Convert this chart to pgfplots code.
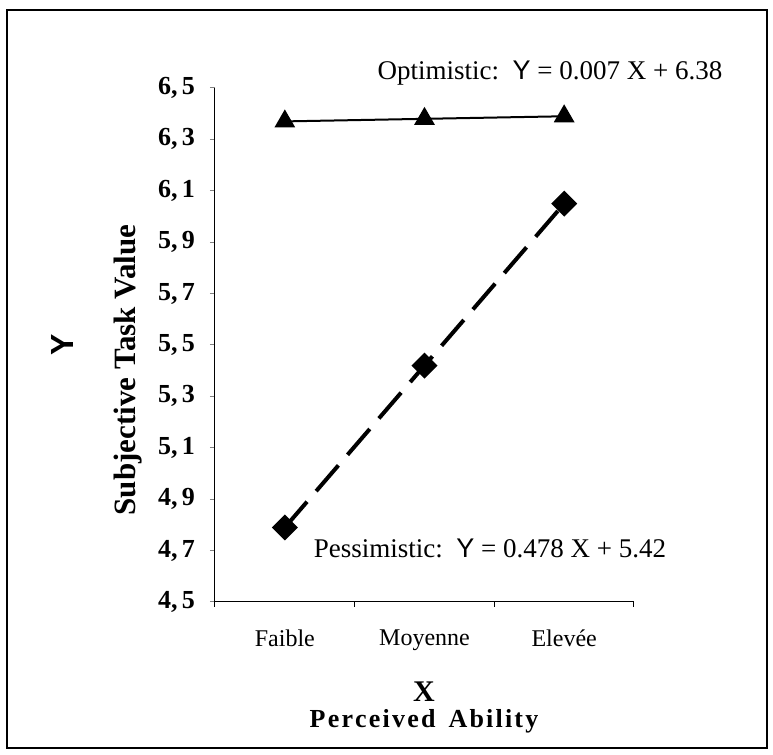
\documentclass[border=0pt]{standalone}
\usepackage{pgfplots}
\pgfplotsset{compat=1.18}
\usepackage{fontspec}
\setmainfont{Liberation Serif}
\newfontfamily\sansf{Liberation Sans}
\newcommand{\lsp}{\hspace{1.1pt}}
\begin{document}
\begin{tikzpicture}
\path (0pt,0pt) rectangle (386.5pt,377.5pt);
\draw[line width=0.8pt] (3.5pt,3.5pt) rectangle (383.5pt,372.5pt);
\begin{axis}[
  at={(107.5pt,76.5pt)}, anchor=south west,
  scale only axis, width=209.5pt, height=257pt,
  xmin=-0.5, xmax=2.5, ymin=4.5, ymax=6.5,
  axis x line=bottom, axis y line=left,
  axis line style={-, line width=0.5pt},
  xtick={0,1,2}, xticklabels={Faible,Moyenne,Elevée},
  minor xtick={-0.5,0.5,1.5,2.5},
  ytick={4.5,4.7,4.9,5.1,5.3,5.5,5.7,5.9,6.1,6.3,6.5},
  yticklabels={{4,\,5},{4,\,7},{4,\,9},{5,\,1},{5,\,3},{5,\,5},{5,\,7},{5,\,9},{6,\,1},{6,\,3},{6,\,5}},
  tick align=outside,
  major tick length=2.5pt, minor tick length=2.5pt,
  x tick style={draw=none},
  minor x tick style={draw=black, line width=0.5pt},
  y tick style={line width=0.5pt},
  xticklabel style={font=\fontsize{12}{14}\selectfont, yshift=-8pt},
  yticklabel style={font=\fontsize{13}{15}\selectfont\bfseries, xshift=-4pt},
  clip=false,
]
\addplot[black, line width=1pt, mark=triangle*, mark size=5pt, mark options={solid}]
  coordinates {(0,6.37) (1,6.38) (2,6.39)};
\addplot[black, line width=2pt, dash pattern=on 17pt off 7pt, mark=square*, mark size=3.6pt, mark options={solid, rotate=45}]
  coordinates {(0,4.79) (1,5.42) (2,6.05)};
\end{axis}
\node[font=\fontsize{13.5}{15}\selectfont] at (275pt,341pt) {Optimistic:\ \ {\sansf Y} = 0.007 X + 6.38};
\node[font=\fontsize{13.5}{15}\selectfont] at (245pt,103.5pt) {Pessimistic:\ \ {\sansf Y} = 0.478 X + 5.42};
\node[rotate=90, font=\fontsize{16}{18}\selectfont\sansf\bfseries] at (31pt,205pt) {Y};
\node[rotate=90, font=\fontsize{15.5}{18}\selectfont\bfseries] at (64pt,192.5pt) {Subjective Task Value};
\node[font=\fontsize{15}{18}\selectfont\bfseries] at (212pt,31.5pt) {X};
\node[font=\fontsize{13}{16}\selectfont\bfseries] at (212pt,17pt) {P\lsp e\lsp r\lsp c\lsp e\lsp i\lsp v\lsp e\lsp d\ \ A\lsp b\lsp i\lsp l\lsp i\lsp t\lsp y};
\end{tikzpicture}
\end{document}
